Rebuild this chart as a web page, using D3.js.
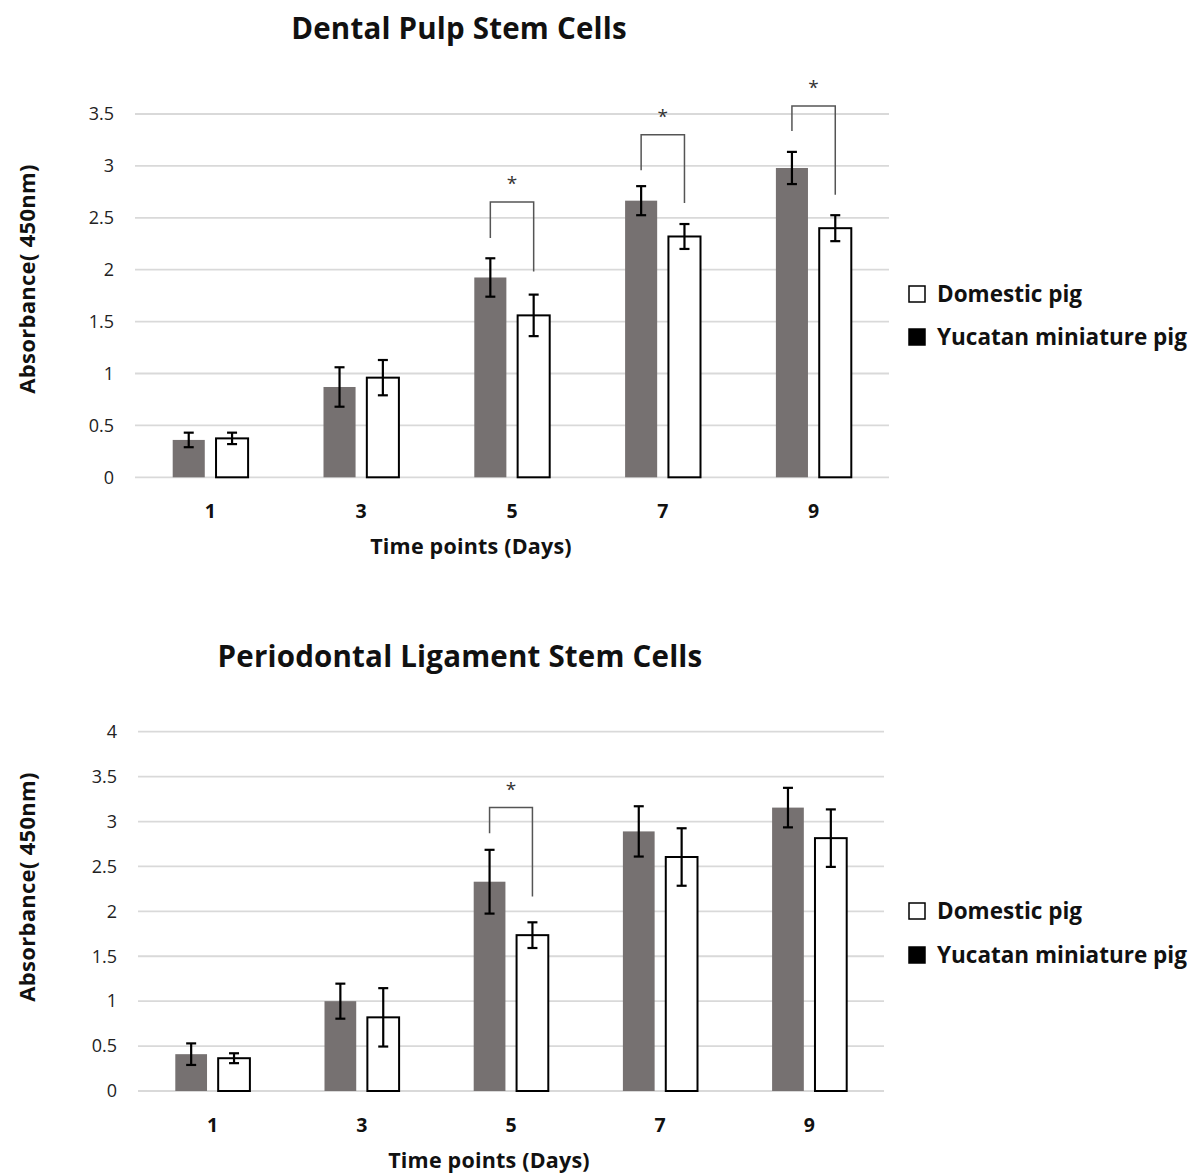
<!DOCTYPE html>
<html><head><meta charset="utf-8">
<script src="https://cdn.jsdelivr.net/npm/d3@7"></script>
<style>
html,body{margin:0;padding:0;background:#fff;}
text{font-family:"Open Sans","Noto Sans",sans-serif;}
</style></head>
<body>
<svg id="chart" width="1195" height="1176"></svg>
<script>
const days = ["1", "3", "5", "7", "9"];
const seriesNames = ["Yucatan miniature pig", "Domestic pig"];

const dpscYucatan = [0.36, 0.87, 1.925, 2.665, 2.98];
const dpscYucatanErr = [0.07, 0.19, 0.185, 0.14, 0.155];
const dpscDomestic = [0.375, 0.96, 1.56, 2.32, 2.40];
const dpscDomesticErr = [0.055, 0.17, 0.2, 0.12, 0.125];
const dpscTicks = [0, 0.5, 1, 1.5, 2, 2.5, 3, 3.5];
const dpscTickLabels = ["0", "0.5", "1", "1.5", "2", "2.5", "3", "3.5"];
const dpscSig = [
  {day: "5", top: 2.652, left: 2.305, right: 1.983},
  {day: "7", top: 3.301, left: 2.957, right: 2.642},
  {day: "9", top: 3.578, left: 3.337, right: 2.722}
];

const pdlscYucatan = [0.41, 1.0, 2.33, 2.89, 3.155];
const pdlscYucatanErr = [0.12, 0.195, 0.355, 0.28, 0.22];
const pdlscDomestic = [0.365, 0.82, 1.735, 2.605, 2.815];
const pdlscDomesticErr = [0.055, 0.325, 0.143, 0.32, 0.32];
const pdlscTicks = [0, 0.5, 1, 1.5, 2, 2.5, 3, 3.5, 4];
const pdlscTickLabels = ["0", "0.5", "1", "1.5", "2", "2.5", "3", "3.5", "4"];
const pdlscSig = [
  {day: "5", top: 3.155, left: 2.87, right: 2.164}
];

const svg = d3.select("#chart");
const GRAY = "#767171";

function drawPanel(cfg) {
  const g = svg.append("g");
  const x = d3.scaleBand().domain(days).range([cfg.x0, cfg.x1]).padding(0);
  const y = d3.scaleLinear().domain([0, cfg.ymax]).range([cfg.yBottom, cfg.yTop]);
  const bw = x.bandwidth();
  const inner = d3.scaleBand().domain(seriesNames).range([bw * 0.25, bw * 0.75]).paddingInner(0.26);

  // title
  g.append("text").attr("x", cfg.titleX).attr("y", cfg.titleY)
    .attr("text-anchor", "middle").attr("font-size", 29.5).attr("font-weight", 700)
    .attr("letter-spacing", 0.2).attr("fill", "#111").text(cfg.title);

  // gridlines
  g.append("g").selectAll("line").data(cfg.ticks).join("line")
    .attr("x1", cfg.x0).attr("x2", cfg.x1)
    .attr("y1", d => y(d)).attr("y2", d => y(d))
    .attr("stroke", "#d9d9d9").attr("stroke-width", 1.8);

  // y axis labels
  const yAxis = d3.axisLeft(y).tickValues(cfg.ticks).tickSize(0).tickPadding(0)
    .tickFormat((d, i) => cfg.tickLabels[i]);
  const ya = g.append("g").attr("transform", `translate(${cfg.x0 - 21},0)`).call(yAxis);
  ya.select(".domain").remove();
  ya.selectAll("text").attr("font-size", 18).attr("fill", "#222")
    .attr("font-family", "'Open Sans','Noto Sans',sans-serif");

  // x axis labels
  const xAxis = d3.axisBottom(x).tickSize(0).tickPadding(0);
  const xa = g.append("g").attr("transform", `translate(0,${cfg.yBottom + 27})`).call(xAxis);
  xa.select(".domain").remove();
  xa.selectAll("text").attr("font-size", 19.5).attr("font-weight", 700).attr("fill", "#111")
    .attr("font-family", "'Open Sans','Noto Sans',sans-serif");

  // axis titles
  g.append("text").attr("x", cfg.xTitleX).attr("y", cfg.xTitleY)
    .attr("text-anchor", "middle").attr("font-size", 21.5).attr("font-weight", 700)
    .attr("letter-spacing", 0.2).attr("fill", "#111").text("Time points (Days)");
  g.append("text").attr("transform", `translate(35,${cfg.yTitleY}) rotate(-90)`)
    .attr("text-anchor", "middle").attr("font-size", 22).attr("font-weight", 700)
    .attr("letter-spacing", 0.3).attr("fill", "#111").text("Absorbance( 450nm)");

  const rows = days.map((d, i) => ({
    day: d,
    yv: cfg.yuc[i], ye: cfg.yucErr[i],
    dv: cfg.dom[i], de: cfg.domErr[i]
  }));

  // bars
  g.append("g").selectAll("rect").data(rows).join("rect")
    .attr("x", d => x(d.day) + inner(seriesNames[0]))
    .attr("width", inner.bandwidth())
    .attr("y", d => y(d.yv)).attr("height", d => y(0) - y(d.yv))
    .attr("fill", GRAY);
  g.append("g").selectAll("rect").data(rows).join("rect")
    .attr("x", d => x(d.day) + inner(seriesNames[1]))
    .attr("width", inner.bandwidth())
    .attr("y", d => y(d.dv)).attr("height", d => y(0) - y(d.dv))
    .attr("fill", "#fff").attr("stroke", "#000").attr("stroke-width", 2);

  // error bars
  const errs = [];
  rows.forEach(r => {
    errs.push({cx: x(r.day) + inner(seriesNames[0]) + inner.bandwidth() / 2, v: r.yv, e: r.ye});
    errs.push({cx: x(r.day) + inner(seriesNames[1]) + inner.bandwidth() / 2, v: r.dv, e: r.de});
  });
  const eg = g.append("g").attr("stroke", "#000").attr("stroke-width", 2.2).attr("fill", "none");
  errs.forEach(e => {
    eg.append("line").attr("x1", e.cx).attr("x2", e.cx).attr("y1", y(e.v + e.e)).attr("y2", y(e.v - e.e));
    eg.append("line").attr("x1", e.cx - 5).attr("x2", e.cx + 5).attr("y1", y(e.v + e.e)).attr("y2", y(e.v + e.e));
    eg.append("line").attr("x1", e.cx - 5).attr("x2", e.cx + 5).attr("y1", y(e.v - e.e)).attr("y2", y(e.v - e.e));
  });

  // significance brackets
  cfg.sig.forEach(s => {
    const lx = x(s.day) + inner(seriesNames[0]) + inner.bandwidth() / 2;
    const rx = x(s.day) + inner(seriesNames[1]) + inner.bandwidth() / 2;
    g.append("path")
      .attr("d", `M${lx},${y(s.left)}V${y(s.top)}H${rx}V${y(s.right)}`)
      .attr("fill", "none").attr("stroke", "#555").attr("stroke-width", 1.5);
    g.append("text").attr("x", x(s.day) + bw / 2).attr("y", y(s.top) - 12)
      .attr("text-anchor", "middle").attr("font-size", 19).attr("fill", "#333").text("*");
  });

  // legend
  const lg = g.append("g");
  const items = [{name: "Domestic pig", fill: "#fff"}, {name: "Yucatan miniature pig", fill: "#000"}];
  items.forEach((it, i) => {
    const cy = cfg.legendY + i * cfg.legendGap;
    lg.append("rect").attr("x", 909).attr("y", cy - 8).attr("width", 16).attr("height", 16)
      .attr("fill", it.fill).attr("stroke", "#000").attr("stroke-width", 1.5);
    lg.append("text").attr("x", 937).attr("y", cy + 8).attr("font-size", 22.5)
      .attr("font-weight", 700).attr("fill", "#111").text(it.name);
  });
}

drawPanel({
  title: "Dental Pulp Stem Cells", titleX: 459, titleY: 39,
  x0: 135, x1: 889, yTop: 114, yBottom: 477.3, ymax: 3.5,
  ticks: dpscTicks, tickLabels: dpscTickLabels,
  yuc: dpscYucatan, yucErr: dpscYucatanErr, dom: dpscDomestic, domErr: dpscDomesticErr,
  sig: dpscSig, xTitleX: 471, xTitleY: 554, yTitleY: 279,
  legendY: 294, legendGap: 43
});

drawPanel({
  title: "Periodontal Ligament Stem Cells", titleX: 460, titleY: 667,
  x0: 138, x1: 884, yTop: 731.7, yBottom: 1091, ymax: 4,
  ticks: pdlscTicks, tickLabels: pdlscTickLabels,
  yuc: pdlscYucatan, yucErr: pdlscYucatanErr, dom: pdlscDomestic, domErr: pdlscDomesticErr,
  sig: pdlscSig, xTitleX: 489, xTitleY: 1168, yTitleY: 887,
  legendY: 911, legendGap: 44
});
</script>
</body></html>
